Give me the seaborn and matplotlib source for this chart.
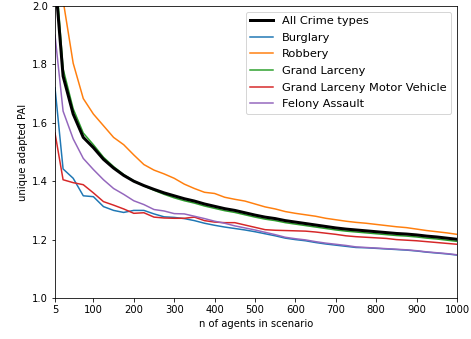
import matplotlib
matplotlib.use("Agg")
import matplotlib.pyplot as plt
import seaborn as sns
import pandas as pd

n_agents = [5, 25, 50, 75, 100, 125, 150, 175, 200, 225, 250, 275, 300, 325, 350,
            375, 400, 425, 450, 475, 500, 525, 550, 575, 600, 625, 650, 675, 700,
            725, 750, 775, 800, 825, 850, 875, 900, 925, 950, 975, 1000]

all_crime = [2.10, 1.76, 1.63, 1.55, 1.515, 1.475, 1.445, 1.42, 1.40, 1.385, 1.372,
             1.36, 1.35, 1.34, 1.332, 1.322, 1.314, 1.306, 1.300, 1.292, 1.284,
             1.277, 1.272, 1.265, 1.260, 1.255, 1.250, 1.245, 1.240, 1.236, 1.233,
             1.230, 1.227, 1.224, 1.221, 1.219, 1.216, 1.212, 1.209, 1.205, 1.201]

burglary = [1.72, 1.442, 1.41, 1.35, 1.347, 1.313, 1.300, 1.293, 1.300, 1.300, 1.288,
            1.278, 1.276, 1.272, 1.265, 1.256, 1.249, 1.243, 1.238, 1.233, 1.227,
            1.220, 1.213, 1.205, 1.200, 1.196, 1.190, 1.185, 1.181, 1.177, 1.173,
            1.172, 1.170, 1.168, 1.166, 1.164, 1.161, 1.157, 1.154, 1.151, 1.147]

robbery = [2.50, 2.02, 1.804, 1.683, 1.63, 1.59, 1.55, 1.525, 1.49, 1.457, 1.438,
           1.425, 1.41, 1.39, 1.375, 1.362, 1.358, 1.345, 1.338, 1.332, 1.322,
           1.312, 1.305, 1.296, 1.290, 1.285, 1.280, 1.273, 1.268, 1.263, 1.259,
           1.256, 1.252, 1.248, 1.244, 1.241, 1.236, 1.231, 1.227, 1.223, 1.218]

grand_larceny = [2.15, 1.785, 1.648, 1.565, 1.525, 1.482, 1.45, 1.423, 1.401, 1.384, 1.369,
                 1.355, 1.343, 1.333, 1.325, 1.315, 1.307, 1.299, 1.293, 1.285, 1.277,
                 1.270, 1.265, 1.258, 1.253, 1.248, 1.243, 1.238, 1.233, 1.229, 1.226,
                 1.223, 1.220, 1.217, 1.214, 1.212, 1.209, 1.205, 1.202, 1.198, 1.194]

gl_motor_vehicle = [1.565, 1.405, 1.395, 1.388, 1.36, 1.33, 1.318, 1.305, 1.290, 1.292, 1.277,
                    1.274, 1.273, 1.273, 1.277, 1.265, 1.260, 1.258, 1.258, 1.250, 1.242,
                    1.234, 1.232, 1.231, 1.230, 1.229, 1.226, 1.222, 1.218, 1.213, 1.210,
                    1.208, 1.206, 1.204, 1.200, 1.198, 1.196, 1.193, 1.190, 1.187, 1.184]

felony_assault = [1.90, 1.64, 1.545, 1.478, 1.44, 1.405, 1.375, 1.355, 1.333, 1.32, 1.303,
                  1.298, 1.289, 1.288, 1.280, 1.272, 1.263, 1.256, 1.247, 1.240, 1.233,
                  1.225, 1.217, 1.208, 1.203, 1.199, 1.193, 1.188, 1.184, 1.180, 1.175,
                  1.173, 1.171, 1.169, 1.167, 1.165, 1.162, 1.158, 1.155, 1.152, 1.148]

series = [
    ("All Crime types", all_crime, "black", 3.0),
    ("Burglary", burglary, "#1f77b4", 1.5),
    ("Robbery", robbery, "#ff7f0e", 1.5),
    ("Grand Larceny", grand_larceny, "#2ca02c", 1.5),
    ("Grand Larceny Motor Vehicle", gl_motor_vehicle, "#d62728", 1.5),
    ("Felony Assault", felony_assault, "#9467bd", 1.5),
]

plt.rcParams['font.family'] = ['DejaVu Sans']
fig = plt.figure(figsize=(471 / 72, 339 / 72), dpi=72)
ax = fig.add_axes([55 / 471, 1 - 298 / 339, (457 - 55) / 471, (298 - 6) / 339])

for i, (name, vals, color, lw) in enumerate(series):
    df = pd.DataFrame({"n": n_agents, "v": vals})
    sns.lineplot(data=df, x="n", y="v", color=color, linewidth=lw, ax=ax,
                 label=name, zorder=4 if i == 0 else 2)

ax.legend(loc="upper right", fontsize=11.4, labelspacing=0.58)

ax.set_xlim(5, 1000)
ax.set_ylim(1.0, 2.0)
ax.set_xticks([5, 100, 200, 300, 400, 500, 600, 700, 800, 900, 1000])
ax.set_yticks([1.0, 1.2, 1.4, 1.6, 1.8, 2.0])
ax.set_xlabel("n of agents in scenario", fontsize=10)
ax.set_ylabel("unique adapted PAI", fontsize=10)
ax.tick_params(labelsize=10)

fig.savefig("out.png", dpi=72)
